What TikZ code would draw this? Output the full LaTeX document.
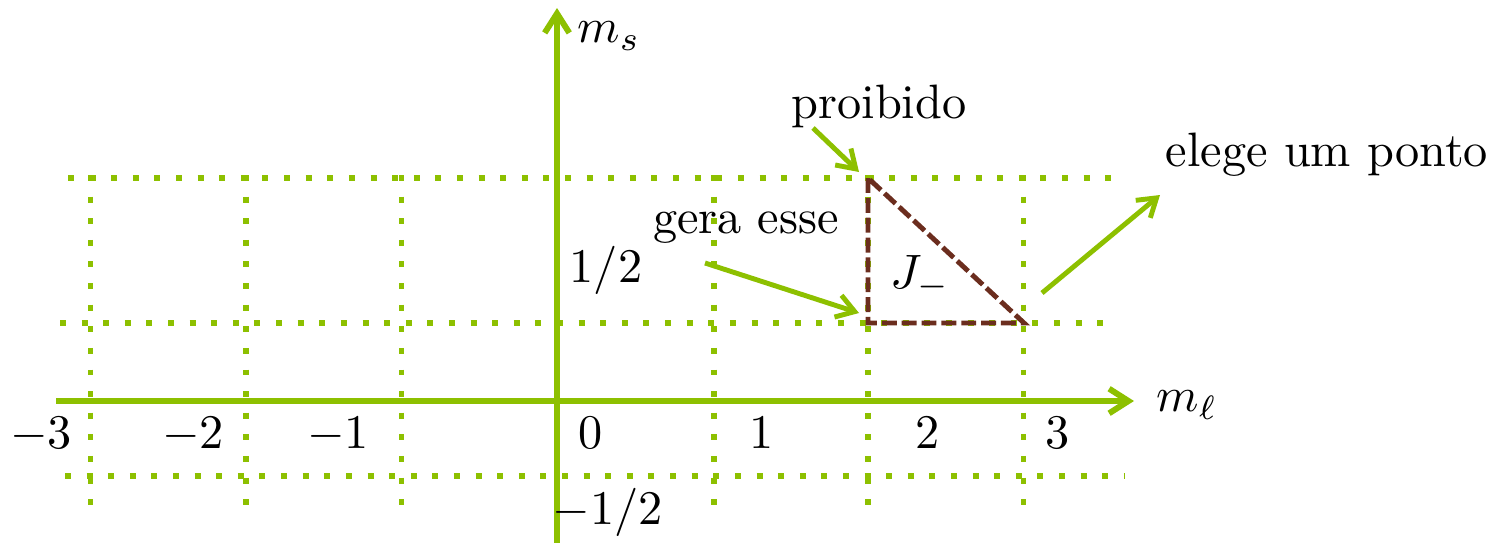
\documentclass[tikz,border=0pt]{standalone}
\usepackage{graphicx}
\usetikzlibrary{arrows.meta}
\definecolor{lgreen}{RGB}{141,192,0}
\definecolor{dbrown}{RGB}{107,45,30}
\newcommand{\bigtxt}[1]{\scalebox{2.75}{#1}}
\begin{document}
\begin{tikzpicture}[x=0.02cm,y=-0.02cm,
  lbl/.style={font=\fontsize{10}{12}\selectfont, inner sep=0pt},
  axisline/.style={lgreen, line width=3.4pt, -{Straight Barb[length=11pt,width=14pt]}},
  gridline/.style={lgreen, line width=3.4pt, dash pattern=on 3.4pt off 8.9pt},
  triline/.style={dbrown, line width=2.8pt, dash pattern=on 8.5pt off 2.8pt},
  pointer/.style={lgreen, line width=2.8pt, -{Straight Barb[length=10pt,width=13pt]}}]
\useasboundingbox (0,0) rectangle (1501,542);
% grid
\foreach \x in {90.5,246,401.5,714,868,1023.5}{
  \draw[gridline] (\x,175) -- (\x,518);
}
\draw[gridline] (68,178) -- (1125,178);
\draw[gridline] (60,323) -- (1118,323);
\draw[gridline] (65,476) -- (1125,476);
% axes
\coordinate (xs) at (56,401);
\coordinate (xe) at (1134,401);
\coordinate (ys) at (557,545);
\coordinate (ye) at (557,8);
\draw[axisline] (xs) -- (xe);
\draw[axisline] (ys) -- (ye);
\node[lbl] (ms) at (609,36) {\bigtxt{$m_s$}};
\node[lbl] (ml) at (1187,405) {\bigtxt{$m_\ell$}};
% tick labels
\node[lbl, anchor=base] (tm3) at (41,448) {\bigtxt{$-3$}};
\node[lbl, anchor=base] (tm2) at (193,448) {\bigtxt{$-2$}};
\node[lbl, anchor=base] (tm1) at (338,448) {\bigtxt{$-1$}};
\node[lbl, anchor=base] (t0) at (591,448) {\bigtxt{$0$}};
\node[lbl, anchor=base] (t1) at (762,448) {\bigtxt{$1$}};
\node[lbl, anchor=base] (t2) at (928,448) {\bigtxt{$2$}};
\node[lbl, anchor=base] (t3) at (1058,448) {\bigtxt{$3$}};
\node[lbl] (half) at (606,270) {\bigtxt{$1/2$}};
\node[lbl] (mhalf) at (608,512) {\bigtxt{$-1/2$}};
% triangle
\coordinate (A) at (868,178);
\coordinate (B) at (868,323);
\coordinate (C) at (1024,323);
\draw[triline] (A) -- (B) -- (C) -- cycle;
\node[lbl, anchor=base west] (J) at (890,288) {\bigtxt{$J_-$}};
% annotations
\node[lbl, anchor=base] (proib) at (879,118) {\bigtxt{proibido}};
\node[lbl, anchor=base] (gera) at (746,233) {\bigtxt{gera esse}};
\node[lbl, anchor=base] (elege) at (1327,166) {\bigtxt{elege um ponto}};
\coordinate (p1) at (813,128);
\coordinate (p2) at (859,172);
\coordinate (g1) at (705,263);
\coordinate (g2) at (859,313);
\coordinate (e1) at (1042,293);
\coordinate (e2) at (1160,195);
\draw[pointer] (p1) -- (p2);
\draw[pointer] (g1) -- (g2);
\draw[pointer] (e1) -- (e2);
\end{tikzpicture}
\end{document}
